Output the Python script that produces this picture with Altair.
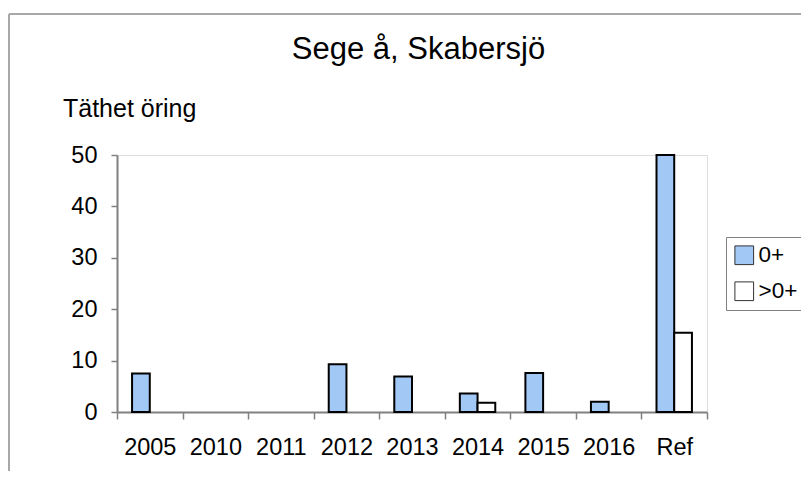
import altair as alt
import pandas as pd

title_text = "Sege å, Skabersjö"
y_label = "Täthet öring"
categories = ["2005", "2010", "2011", "2012", "2013", "2014", "2015", "2016", "Ref"]
series_names = ["0+", ">0+"]
zero_plus = [7.5, 0, 0, 9.3, 6.9, 3.6, 7.6, 2.0, 50]
older = [0, 0, 0, 0, 0, 1.8, 0, 0, 15.4]
colors = ["#a2c8f6", "#ffffff"]

rows = []
for c, a, b in zip(categories, zero_plus, older):
    rows.append({"cat": c, "series": series_names[0], "v": a})
    rows.append({"cat": c, "series": series_names[1], "v": b})
df = pd.DataFrame(rows)

FONT = "Liberation Sans"
W, H = 590, 257

bars = alt.Chart(df).transform_filter("datum.v > 0").mark_bar(
    stroke="black", strokeWidth=2
).encode(
    x=alt.X("cat:N", sort=categories, title=None,
            scale=alt.Scale(domain=categories, paddingInner=0, paddingOuter=0),
            axis=alt.Axis(labelAngle=0, tickBand="extent", tickSize=7,
                          labelPadding=16, labelFontSize=23.5, labelFont=FONT,
                          labelColor="black", domainColor="#808080",
                          domainWidth=2, tickColor="#808080", tickWidth=1.5)),
    xOffset=alt.XOffset("series:N", sort=series_names,
                        scale=alt.Scale(domain=series_names, paddingOuter=0.85, paddingInner=0)),
    y=alt.Y("v:Q", title=None,
            scale=alt.Scale(domain=[0, 50], nice=False),
            axis=alt.Axis(values=[0, 10, 20, 30, 40, 50], grid=False, tickSize=6,
                          labelPadding=14, labelFontSize=23.5, labelFont=FONT,
                          labelColor="black", domainColor="#808080",
                          domainWidth=2, tickColor="#808080", tickWidth=1.5)),
    color=alt.Color("series:N", sort=series_names,
                    scale=alt.Scale(domain=series_names, range=colors),
                    legend=alt.Legend(title=None, orient="none", legendX=609,
                                      legendY=82, symbolType="square",
                                      symbolSize=350, symbolStrokeWidth=1,
                                      symbolStrokeColor="#333333",
                                      labelFontSize=22.5, labelFont=FONT,
                                      labelColor="black", labelOffset=3,
                                      rowPadding=12, padding=7,
                                      strokeColor="#808080", fillColor="white")),
)

title_layer = alt.Chart(pd.DataFrame({"t": [title_text]})).mark_text(
    font=FONT, fontSize=31, align="center", baseline="alphabetic", color="black"
).encode(text="t:N", x=alt.value(301.5), y=alt.value(-96))

ylab_layer = alt.Chart(pd.DataFrame({"t": [y_label]})).mark_text(
    font=FONT, fontSize=25, align="left", baseline="alphabetic", color="black"
).encode(text="t:N", x=alt.value(-54), y=alt.value(-38))

border_df = pd.DataFrame({"k": [1]})
top_border = alt.Chart(border_df).mark_rule(color="#a8a8a8", strokeWidth=2).encode(
    x=alt.value(-108), x2=alt.value(700), y=alt.value(-141))
left_border = alt.Chart(border_df).mark_rule(color="#a8a8a8", strokeWidth=2).encode(
    x=alt.value(-108), y=alt.value(-141), y2=alt.value(340))

chart = alt.layer(top_border, left_border, bars, title_layer, ylab_layer).properties(
    width=W, height=H,
    autosize=alt.AutoSizeParams(type="none"),
    padding={"left": 109, "top": 147, "right": 94, "bottom": 59},
).configure_view(stroke="#808080", strokeWidth=1.5).configure(background="white")

chart.save("out.html", embed_options={"renderer": "svg", "actions": False})
